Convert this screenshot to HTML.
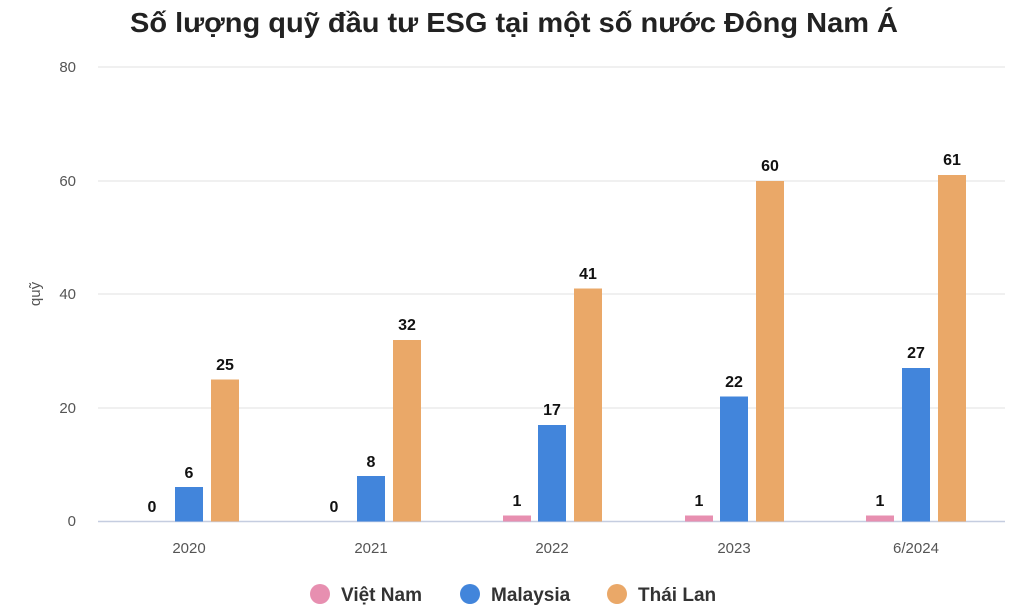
<!DOCTYPE html>
<html><head><meta charset="utf-8"><style>
body{margin:0;background:#fff;}
svg{display:block;font-family:"Liberation Sans",Arial,sans-serif;}
.t{font-size:16px;font-weight:bold;fill:#111;text-anchor:middle}
.ax{font-size:15px;fill:#555}
</style></head><body>
<svg width="1024" height="614" viewBox="0 0 1024 614">
<text x="130" y="32" font-size="28" font-weight="bold" fill="#222" textLength="768" lengthAdjust="spacingAndGlyphs">Số lượng quỹ đầu tư ESG tại một số nước Đông Nam Á</text>
<g stroke="#e2e2e2" stroke-width="1">
<line x1="98" y1="67" x2="1005" y2="67"/><line x1="98" y1="181" x2="1005" y2="181"/>
<line x1="98" y1="294" x2="1005" y2="294"/><line x1="98" y1="408" x2="1005" y2="408"/>
</g>
<line x1="98" y1="521.5" x2="1005" y2="521.5" stroke="#c5cde0" stroke-width="1.5"/>
<g class="ax" text-anchor="end">
<text x="76" y="72">80</text><text x="76" y="186">60</text><text x="76" y="299">40</text><text x="76" y="413">20</text><text x="76" y="526">0</text>
</g>
<text transform="translate(40,294) rotate(-90)" text-anchor="middle" class="ax">quỹ</text>
<g class="ax" text-anchor="middle">
<text x="189" y="553">2020</text><text x="371" y="553">2021</text><text x="552" y="553">2022</text><text x="734" y="553">2023</text><text x="916" y="553">6/2024</text>
</g>
<g fill="#e78fb0">
<rect x="503" y="515.5" width="28" height="6"/><rect x="685" y="515.5" width="28" height="6"/><rect x="866" y="515.5" width="28" height="6"/>
</g>
<g fill="#4285db">
<rect x="175" y="487" width="28" height="34.5"/><rect x="357" y="476" width="28" height="45.5"/><rect x="538" y="425" width="28" height="96.5"/><rect x="720" y="396.5" width="28" height="125"/><rect x="902" y="368" width="28" height="153.5"/>
</g>
<g fill="#eaa868">
<rect x="211" y="379.5" width="28" height="142"/><rect x="393" y="340" width="28" height="181.5"/><rect x="574" y="288.5" width="28" height="233"/><rect x="756" y="181" width="28" height="340.5"/><rect x="938" y="175" width="28" height="346.5"/>
</g>
<g class="t">
<text x="152" y="512">0</text><text x="189" y="478">6</text><text x="225" y="370">25</text>
<text x="334" y="512">0</text><text x="371" y="467">8</text><text x="407" y="330">32</text>
<text x="517" y="506">1</text><text x="552" y="415">17</text><text x="588" y="279">41</text>
<text x="699" y="506">1</text><text x="734" y="387">22</text><text x="770" y="171">60</text>
<text x="880" y="506">1</text><text x="916" y="358">27</text><text x="952" y="165">61</text>
</g>
<circle cx="320" cy="594" r="10" fill="#e78fb0"/>
<circle cx="470" cy="594" r="10" fill="#4285db"/>
<circle cx="617" cy="594" r="10" fill="#eaa868"/>
<g font-size="19" font-weight="bold" fill="#333">
<text x="341" y="601">Việt Nam</text><text x="491" y="601">Malaysia</text><text x="638" y="601">Thái Lan</text>
</g>
</svg>
</body></html>
